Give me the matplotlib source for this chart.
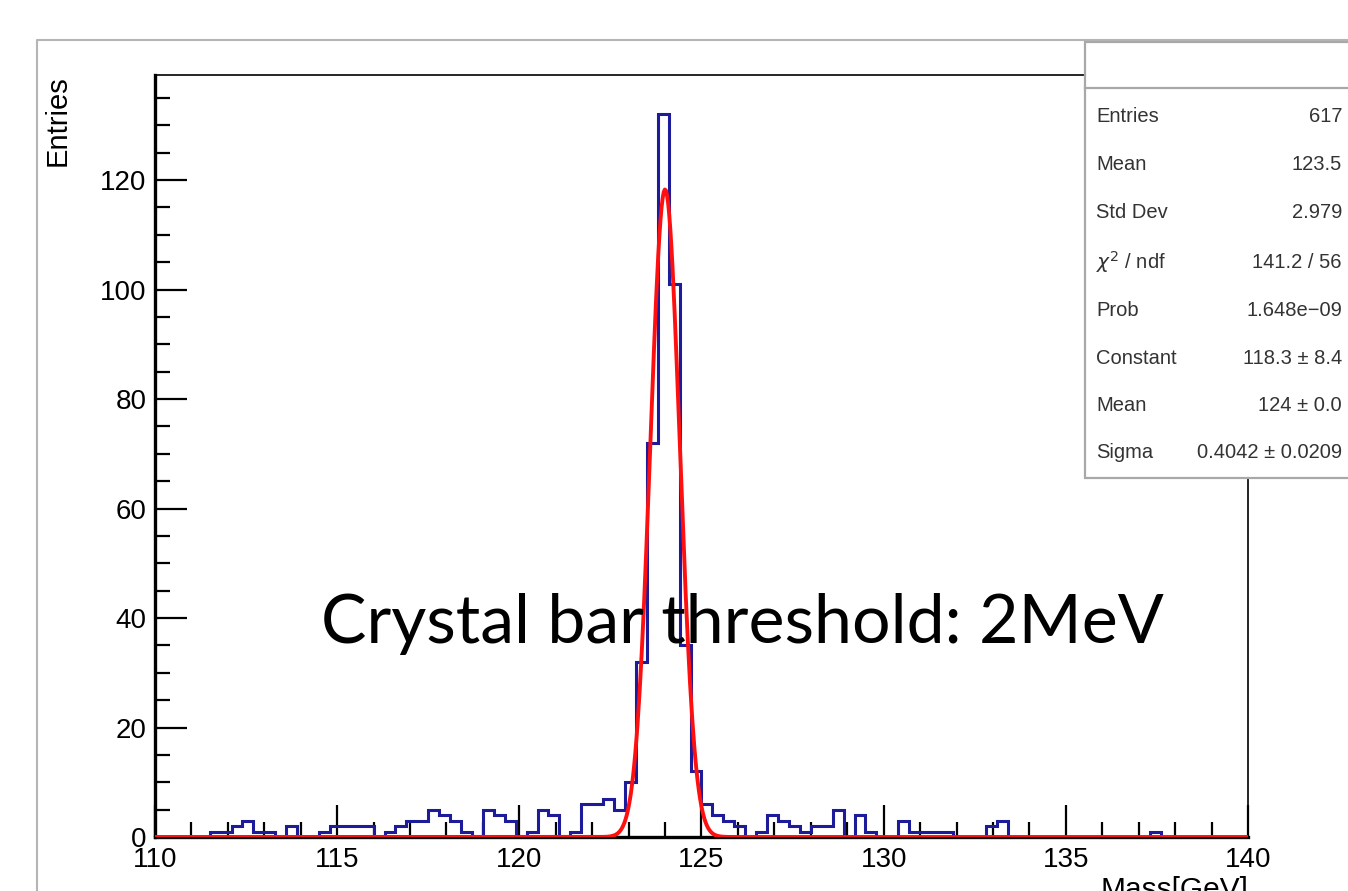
import numpy as np
import matplotlib.pyplot as plt
from matplotlib.patches import Rectangle
from matplotlib.ticker import MultipleLocator

# histogram: 100 bins of 0.3 GeV between 110 and 140
mass_lo, mass_hi, n_bins = 110, 140, 100
counts = [
    0, 0, 0, 0, 0, 1, 1, 2, 3, 1,
    1, 0, 2, 0, 0, 1, 2, 2, 2, 2,
    0, 1, 2, 3, 3, 5, 4, 3, 1, 0,
    5, 4, 3, 0, 1, 5, 4, 0, 1, 6,
    6, 7, 5, 10, 32, 72, 132, 101, 35, 12,
    6, 4, 3, 2, 0, 1, 4, 3, 2, 1,
    2, 2, 5, 0, 4, 1, 0, 0, 3, 1,
    1, 1, 1, 0, 0, 0, 2, 3, 0, 0,
    0, 0, 0, 0, 0, 0, 0, 0, 0, 0,
    0, 1, 0, 0, 0, 0, 0, 0, 0, 0,
]

# gaussian fit result shown in the stat box
fit_const, fit_mean, fit_sigma = 118.3, 124.0, 0.4042

stat_labels = ["Entries", "Mean", "Std Dev", r"$\chi^2$ / ndf", "Prob",
               "Constant", "Mean", "Sigma"]
stat_values = ["617", "123.5", "2.979", "141.2 / 56", "1.648e\u221209",
               "118.3 \u00b1 8.4", "124 \u00b1 0.0", "0.4042 \u00b1 0.0209"]

W, H = 1348, 891
fig = plt.figure(figsize=(W / 100, H / 100), dpi=100)
plt.rcParams['font.family'] = ['Liberation Sans', 'DejaVu Sans']

ax = fig.add_axes([155 / W, 1 - 837 / H, (1248 - 155) / W, (837 - 75) / H])

edges = np.linspace(mass_lo, mass_hi, n_bins + 1)
ax.stairs(counts, edges, color="#1c1c9a", linewidth=2.2, zorder=2)

xs = np.linspace(mass_lo, mass_hi, 1000)
ax.plot(xs, fit_const * np.exp(-0.5 * ((xs - fit_mean) / fit_sigma) ** 2),
        color="#ff1010", linewidth=2.8, zorder=3)

ax.set_xlim(mass_lo, mass_hi)
ax.set_ylim(0, 139.2)
ax.xaxis.set_major_locator(MultipleLocator(5))
ax.xaxis.set_minor_locator(MultipleLocator(1))
ax.yaxis.set_major_locator(MultipleLocator(20))
ax.yaxis.set_minor_locator(MultipleLocator(5))
ax.tick_params(which="both", direction="in", top=False, right=False,
               labelsize=20, width=1.6, colors="black")
ax.tick_params(which="major", length=23)
ax.tick_params(which="minor", length=11)
ax.tick_params(axis="x", pad=7)
ax.tick_params(axis="y", pad=6)
for side in ["left", "bottom"]:
    ax.spines[side].set_linewidth(2.4)
for side in ["top", "right"]:
    ax.spines[side].set_linewidth(1.2)

# outer pad border
fig.add_artist(plt.Line2D([37 / W, 37 / W, 1], [0, 1 - 40 / H, 1 - 40 / H],
                          color="#b5b5b5", linewidth=1.5))

fig.text(58 / W, 1 - 75 / H, "Entries", rotation=90, ha="center", va="top",
         fontsize=21)
fig.text(1248 / W, 1 - 876 / H, "Mass[GeV]", ha="right", va="top", fontsize=21.5)

# stat box
fig.add_artist(Rectangle((1085 / W, 1 - 478 / H), 300 / W, (478 - 42) / H,
                         transform=fig.transFigure, facecolor="white",
                         edgecolor="#a8a8a8", linewidth=1.6, zorder=5))
fig.add_artist(plt.Line2D([1085 / W, 1], [1 - 88 / H, 1 - 88 / H],
                          color="#a8a8a8", linewidth=1.6, zorder=6))
row_y = [117, 165, 213, 262, 310, 358, 406, 453]
for lab, val, y in zip(stat_labels, stat_values, row_y):
    fig.text(1096 / W, 1 - y / H, lab, ha="left", va="center", fontsize=14.5,
             color="#333333", zorder=7)
    fig.text(1342 / W, 1 - y / H, val, ha="right", va="center", fontsize=14.5,
             color="#333333", zorder=7)

fig.text(321 / W, 1 - 643 / H, "Crystal bar threshold: 2MeV", ha="left",
         va="baseline", fontsize=49, family=["Lato", "DejaVu Sans"], zorder=10)

fig.savefig("out.png", dpi=100)
